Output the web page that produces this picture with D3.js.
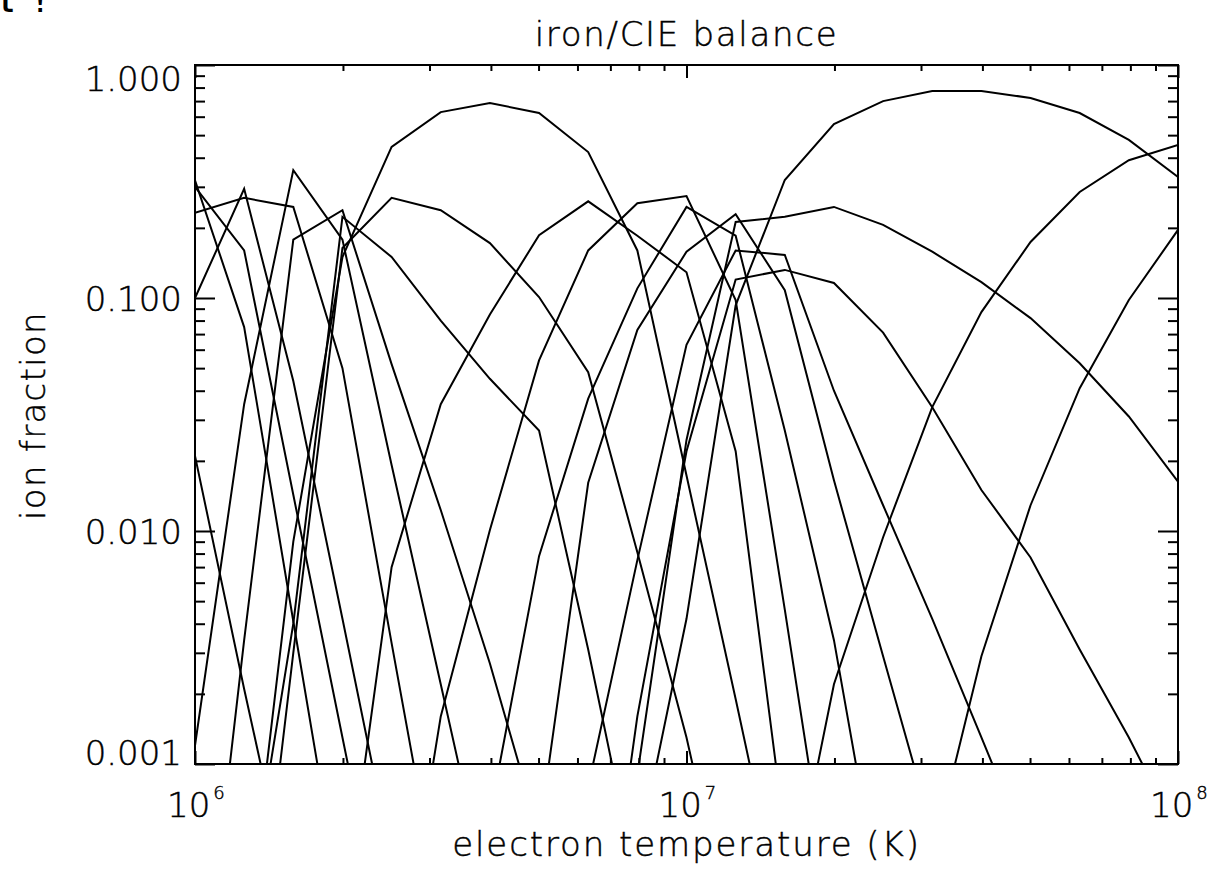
<!DOCTYPE html>
<html>
<head>
<meta charset="utf-8">
<script src="https://cdn.jsdelivr.net/npm/d3@7"></script>
<style>
  body { margin: 0; background: #fff; }
  text { font-family: "DejaVu Sans", sans-serif; font-weight: 200; fill: #000; stroke: #000; stroke-width: 0.45; }
</style>
</head>
<body>
<svg id="chart" width="1213" height="872"></svg>
<script>
// temperature grid: log T = 6.0 ... 8.0 in steps of 0.1
const logT = [6.0, 6.1, 6.2, 6.3, 6.4, 6.5, 6.6, 6.7, 6.8, 6.9, 7.0,
              7.1, 7.2, 7.3, 7.4, 7.5, 7.6, 7.7, 7.8, 7.9, 8.0];

// ion fractions per charge state (null = not tabulated / far off scale)
const fe08 = [0.021, 0.0021, 0.00023, null, null, null, null, null, null, null, null, null, null, null, null, null, null, null, null, null, null];
const fe09 = [0.32, 0.075, 0.0041, 0.00023, null, null, null, null, null, null, null, null, null, null, null, null, null, null, null, null, null];
const fe10 = [0.30, 0.16, 0.0143, 0.0013, 0.00012, null, null, null, null, null, null, null, null, null, null, null, null, null, null, null, null];
const fe11 = [0.10, 0.294, 0.044, 0.0042, 0.00039, null, null, null, null, null, null, null, null, null, null, null, null, null, null, null, null];
const fe12 = [0.232, 0.269, 0.246, 0.05, 0.0033, 0.00023, null, null, null, null, null, null, null, null, null, null, null, null, null, null, null];
const fe13 = [0.0012, 0.035, 0.354, 0.178, 0.0192, 0.0022, 0.00025, null, null, null, null, null, null, null, null, null, null, null, null, null, null];
const fe14 = [0.00005, 0.0034, 0.178, 0.238, 0.052, 0.0123, 0.0027, 0.0005, null, null, null, null, null, null, null, null, null, null, null, null, null];
const fe15 = [null, 0.0002, 0.004, 0.223, 0.15, 0.08, 0.045, 0.027, 0.0031, 0.0003, null, null, null, null, null, null, null, null, null, null, null];
const fe16 = [null, 0.00005, 0.003, 0.164, 0.269, 0.238, 0.172, 0.101, 0.048, 0.0081, 0.0013, 0.00015, null, null, null, null, null, null, null, null, null];
const fe17 = [null, 0.00015, 0.009, 0.15, 0.445, 0.628, 0.687, 0.622, 0.423, 0.16, 0.0173, 0.0019, 0.0002, null, null, null, null, null, null, null, null];
const fe18 = [null, null, null, 0.0002, 0.007, 0.035, 0.085, 0.186, 0.26, 0.185, 0.129, 0.022, 0.0005, null, null, null, null, null, null, null, null];
const fe19 = [null, null, null, null, 0.00008, 0.0016, 0.0101, 0.054, 0.16, 0.255, 0.274, 0.098, 0.0046, 0.0002, null, null, null, null, null, null, null];
const fe20 = [null, null, null, null, null, 0.0001, 0.0006, 0.0078, 0.037, 0.11, 0.246, 0.185, 0.027, 0.0034, 0.00022, null, null, null, null, null, null];
const fe21 = [null, null, null, null, null, null, 0.00005, 0.0005, 0.0161, 0.073, 0.158, 0.229, 0.108, 0.0165, 0.0029, 0.00052, null, null, null, null, null];
const fe22 = [null, null, null, null, null, null, null, 0.00008, 0.0008, 0.0075, 0.063, 0.16, 0.153, 0.04, 0.0129, 0.0042, 0.0013, 0.0004, null, null, null];
const fe23 = [null, null, null, null, null, null, null, null, 0.00005, 0.0016, 0.022, 0.12, 0.132, 0.116, 0.071, 0.034, 0.015, 0.0077, 0.0031, 0.0013, 0.0005];
const fe24 = [null, null, null, null, null, null, null, null, 0.00003, 0.0009, 0.0246, 0.212, 0.223, 0.246, 0.206, 0.158, 0.117, 0.082, 0.0525, 0.031, 0.0163];
const fe25 = [null, null, null, null, null, null, null, null, 0.00002, 0.0004, 0.0042, 0.093, 0.321, 0.558, 0.70, 0.774, 0.774, 0.722, 0.622, 0.477, 0.331];
const fe26 = [null, null, null, null, null, null, null, null, null, null, null, 0.00002, 0.0002, 0.0022, 0.0094, 0.034, 0.087, 0.174, 0.285, 0.39, 0.454];
const fe27 = [null, null, null, null, null, null, null, null, null, null, null, null, null, 0.00001, 0.00008, 0.0004, 0.0029, 0.0129, 0.041, 0.098, 0.196];

const ions = [fe08, fe09, fe10, fe11, fe12, fe13, fe14, fe15, fe16, fe17,
              fe18, fe19, fe20, fe21, fe22, fe23, fe24, fe25, fe26, fe27];

// axis labelling
const yTicks = [0.001, 0.01, 0.1, 1];
const yTickLabels = ["0.001", "0.010", "0.100", "1.000"];
const xTicks = [1e6, 1e7, 1e8];
const xTickExps = ["6", "7", "8"];

const plot = { left: 195, right: 1178, top: 65, bottom: 764 };

const svg = d3.select("#chart");

const x = d3.scaleLog().domain([1e6, 1e8]).range([plot.left, plot.right]);
const y = d3.scaleLog().domain([1e-3, 1]).range([plot.bottom, plot.top]);

// minor tick positions: 2..9 in each decade
function minorTicks(lo, hi) {
    const out = [];
    for (let e = lo; e < hi; e++)
        for (let m = 2; m <= 9; m++) out.push(m * Math.pow(10, e));
    return out;
}
const xMinor = minorTicks(6, 8);
const yMinor = minorTicks(-3, 0);

// curves, clipped to the plotting box
svg.append("clipPath").attr("id", "box")
    .append("rect")
    .attr("x", plot.left).attr("y", plot.top)
    .attr("width", plot.right - plot.left)
    .attr("height", plot.bottom - plot.top);

const line = d3.line()
    .defined(d => d[1] != null)
    .x(d => x(Math.pow(10, d[0])))
    .y(d => y(d[1]));

svg.append("g")
    .attr("clip-path", "url(#box)")
    .selectAll("path")
    .data(ions)
    .join("path")
    .attr("d", vals => line(logT.map((t, i) => [t, vals[i]])))
    .attr("fill", "none")
    .attr("stroke", "#000")
    .attr("stroke-width", 2)
    .attr("stroke-linejoin", "miter");

// ticks point inward on all four sides, no labels from the axes themselves
function tickAxis(axisFn, scale, ticks, size) {
    return axisFn(scale).tickValues(ticks).tickSize(size).tickFormat("");
}
function drawTicks(g) {
    g.select(".domain").remove();
    g.selectAll("line").attr("stroke", "#000").attr("stroke-width", 2);
}

svg.append("g").attr("transform", `translate(0,${plot.bottom})`)
    .call(tickAxis(d3.axisTop, x, xMinor, 6)).call(drawTicks);
svg.append("g").attr("transform", `translate(0,${plot.bottom})`)
    .call(tickAxis(d3.axisTop, x, xTicks, 13)).call(drawTicks);
svg.append("g").attr("transform", `translate(0,${plot.top})`)
    .call(tickAxis(d3.axisBottom, x, xMinor, 6)).call(drawTicks);
svg.append("g").attr("transform", `translate(0,${plot.top})`)
    .call(tickAxis(d3.axisBottom, x, xTicks, 13)).call(drawTicks);

svg.append("g").attr("transform", `translate(${plot.left},0)`)
    .call(tickAxis(d3.axisRight, y, yMinor, 10)).call(drawTicks);
svg.append("g").attr("transform", `translate(${plot.left},0)`)
    .call(tickAxis(d3.axisRight, y, yTicks, 20)).call(drawTicks);
svg.append("g").attr("transform", `translate(${plot.right},0)`)
    .call(tickAxis(d3.axisLeft, y, yMinor, 10)).call(drawTicks);
svg.append("g").attr("transform", `translate(${plot.right},0)`)
    .call(tickAxis(d3.axisLeft, y, yTicks, 20)).call(drawTicks);

// frame
svg.append("rect")
    .attr("x", plot.left).attr("y", plot.top)
    .attr("width", plot.right - plot.left)
    .attr("height", plot.bottom - plot.top)
    .attr("fill", "none")
    .attr("stroke", "#000")
    .attr("stroke-width", 2);

// y tick labels; end labels are kept inside the axis span
svg.selectAll(".ylab")
    .data(yTicks)
    .join("text")
    .attr("class", "ylab")
    .attr("x", plot.left - 13)
    .attr("y", d => Math.min(Math.max(y(d) + 13, plot.top + 26), plot.bottom + 1))
    .attr("text-anchor", "end")
    .attr("font-size", 34)
    .text((d, i) => yTickLabels[i]);

// x tick labels as 10^n
const xl = svg.selectAll(".xlab")
    .data(xTicks)
    .join("text")
    .attr("class", "xlab")
    .attr("x", d => x(d) - 28)
    .attr("y", 817)
    .attr("font-size", 34);
xl.append("tspan").text("10");
xl.append("tspan")
    .attr("font-size", 18)
    .attr("dx", 3)
    .attr("dy", -18)
    .text((d, i) => xTickExps[i]);

// titles
svg.append("text")
    .attr("x", (plot.left + plot.right) / 2)
    .attr("y", 46)
    .attr("text-anchor", "middle")
    .attr("font-size", 34)
    .attr("letter-spacing", 1.7)
    .text("iron/CIE balance");

svg.append("text")
    .attr("x", (plot.left + plot.right) / 2)
    .attr("y", 856)
    .attr("text-anchor", "middle")
    .attr("font-size", 34)
    .attr("letter-spacing", 1.9)
    .text("electron temperature (K)");

svg.append("text")
    .attr("transform", `translate(45,${(plot.top + plot.bottom) / 2 + 1}) rotate(-90)`)
    .attr("text-anchor", "middle")
    .attr("font-size", 34)
    .attr("letter-spacing", 1.3)
    .text("ion fraction");

// stray fragment at the top-left corner
svg.append("text")
    .attr("x", -2)
    .attr("y", 12)
    .style("font-family", "'DejaVu Sans Mono', monospace")
    .style("font-weight", "bold")
    .style("stroke", "none")
    .attr("font-size", 28)
    .text("t !");
</script>
</body>
</html>
